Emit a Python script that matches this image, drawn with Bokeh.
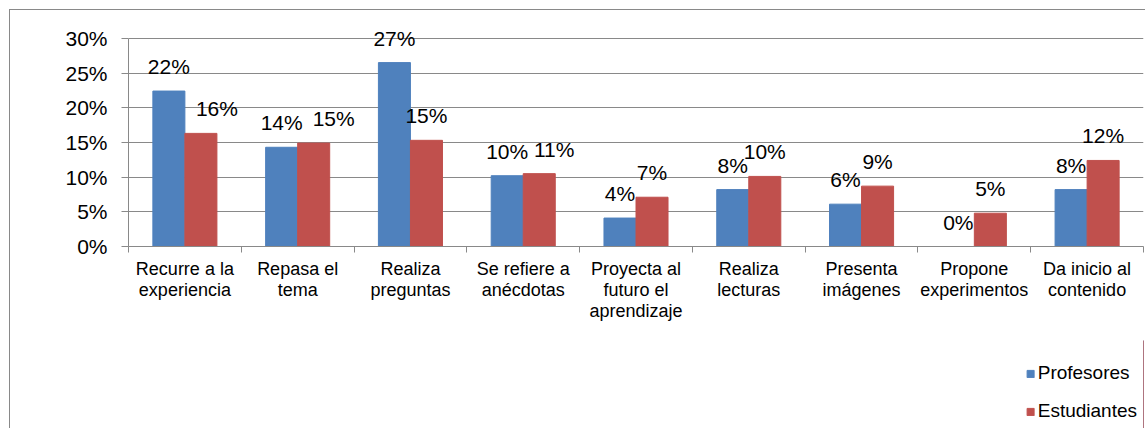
from bokeh.plotting import figure
from bokeh.layouts import column
from bokeh.models import (ColumnDataSource, FixedTicker, NumeralTickFormatter, LabelSet,
                          Range1d, Legend, LegendItem)
from bokeh.core.properties import value
from bokeh.embed import file_html
from bokeh.resources import INLINE
import numpy as np

categories = ["Recurre a la\nexperiencia", "Repasa el\ntema", "Realiza\npreguntas",
              "Se refiere a\nanécdotas", "Proyecta al\nfuturo el\naprendizaje",
              "Realiza\nlecturas", "Presenta\nimágenes", "Propone\nexperimentos",
              "Da inicio al\ncontenido"]
profesores = [0.224, 0.143, 0.265, 0.102, 0.041, 0.082, 0.061, 0.0, 0.082]
estudiantes = [0.163, 0.149, 0.153, 0.105, 0.071, 0.101, 0.087, 0.048, 0.124]
prof_labels = ["22%", "14%", "27%", "10%", "4%", "8%", "6%", "0%", "8%"]
est_labels = ["16%", "15%", "15%", "11%", "7%", "10%", "9%", "5%", "12%"]
series_names = ["Profesores", "Estudiantes"]
y_ticks = [0, 0.05, 0.10, 0.15, 0.20, 0.25, 0.30]

# style: manual horizontal nudges of some student labels (pixels)
est_label_nudge = [16, 20, 0, 15, 0, 0, 0, 0, 0]

BLUE = "#4F81BD"
RED = "#C0504D"
GRID = "#898989"
FONT = "Liberation Sans"

n = len(categories)
centers = np.arange(n) + 0.5
bw = 0.284

src_p = ColumnDataSource(dict(x=centers - bw / 2, top=profesores, label=prof_labels,
                              dx=[0] * n))
src_e = ColumnDataSource(dict(x=centers + bw / 2, top=estudiantes, label=est_labels,
                              dx=est_label_nudge))

W = 1136
p = figure(width=W, height=331, output_backend="svg", toolbar_location=None,
           x_range=Range1d(0, n), y_range=Range1d(0, 0.33),
           min_border_left=119, min_border_right=2, min_border_top=8,
           min_border_bottom=94)
p.outline_line_color = None
p.border_fill_alpha = 0

r1 = p.vbar(x="x", top="top", width=bw, source=src_p, color=BLUE)
r2 = p.vbar(x="x", top="top", width=bw, source=src_e, color=RED)

for src in (src_p, src_e):
    ls = LabelSet(x="x", y="top", text="label", source=src, x_offset="dx", y_offset=17,
                  text_align="center", text_baseline="alphabetic",
                  text_font=value(FONT), text_font_size="21px", text_color="black")
    p.add_layout(ls)

# y axis
p.yaxis.ticker = FixedTicker(ticks=y_ticks)
p.yaxis.formatter = NumeralTickFormatter(format="0%")
p.yaxis.bounds = (0, 0.30)
p.yaxis.axis_line_color = GRID
p.yaxis.major_tick_line_color = GRID
p.yaxis.major_tick_out = 7
p.yaxis.major_tick_in = 0
p.yaxis.minor_tick_line_color = None
p.yaxis.major_label_text_font = FONT
p.yaxis.major_label_text_font_size = "21px"
p.yaxis.major_label_text_color = "black"
p.yaxis.major_label_standoff = 14

# x axis
p.xaxis.ticker = FixedTicker(ticks=list(centers), minor_ticks=list(range(n + 1)))
p.xaxis.major_label_overrides = {float(c): lab for c, lab in zip(centers, categories)}
p.xaxis.axis_line_color = GRID
p.xaxis.major_tick_line_color = None
p.xaxis.major_tick_out = 0
p.xaxis.major_tick_in = 0
p.xaxis.minor_tick_line_color = GRID
p.xaxis.minor_tick_out = 6
p.xaxis.minor_tick_in = 0
p.xaxis.major_label_text_font = FONT
p.xaxis.major_label_text_font_size = "18px"
p.xaxis.major_label_text_line_height = 1.05
p.xaxis.major_label_text_color = "black"
p.xaxis.major_label_standoff = 6

p.xgrid.grid_line_color = None
p.ygrid.grid_line_color = GRID
p.ygrid.grid_line_width = 1

# legend figure below the chart
p2 = figure(width=W, height=88, output_backend="svg", toolbar_location=None,
            x_range=Range1d(0, 1), y_range=Range1d(0, 1),
            x_axis_location=None, y_axis_location=None, min_border=0)
p2.outline_line_color = None
p2.border_fill_alpha = 0
p2.background_fill_alpha = 0
p2.grid.grid_line_color = None
g1 = p2.vbar(x=[2], top=[1], width=0.1, color=BLUE)
g2 = p2.vbar(x=[2], top=[1], width=0.1, color=RED)

lg = Legend(items=[LegendItem(label=series_names[0], renderers=[g1]),
                   LegendItem(label=series_names[1], renderers=[g2])],
            location="bottom_right", orientation="vertical", margin=6, padding=0,
            spacing=16, glyph_width=9, glyph_height=9, label_standoff=3,
            label_height=20, border_line_color=None, background_fill_alpha=0,
            label_text_font=FONT, label_text_font_size="19px", label_text_color="black")
p2.add_layout(lg)

layout = column(p, p2, spacing=0)
layout.styles = {"margin-left": "9px", "margin-top": "9px",
                 "box-shadow": "inset 1px 1px 0 #898989"}

open("out.html", "w").write(file_html(layout, INLINE))
